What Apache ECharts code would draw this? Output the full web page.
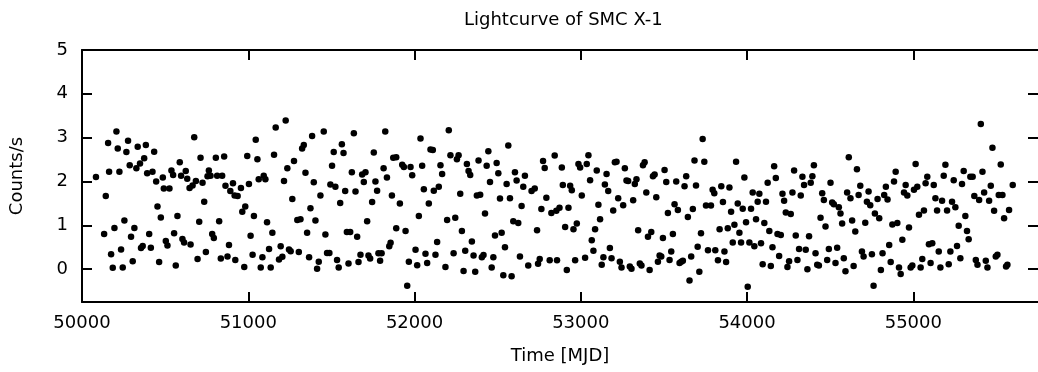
<!DOCTYPE html>
<html><head><meta charset="utf-8">
<script src="https://cdn.jsdelivr.net/npm/echarts@6/dist/echarts.min.js"></script>
<style>html,body{margin:0;padding:0;background:#fff}#c{width:1038px;height:372px}</style>
</head><body><div id="c"></div>
<script>
const chartTitle = 'Lightcurve of SMC X-1';
const xName = 'Time [MJD]';
const yName = 'Counts/s';
const xTicks = [50000, 51000, 52000, 53000, 54000, 55000];
const yTicks = [0, 1, 2, 3, 4, 5];

const mjd = [
50084,50143,50157,50163,50207,50215,50225,50267,50277,50287,50327,50335,50349,50374,50384,50392,50424,50434,50446,50486,50492,50526,50538,50548,50588,50596,50624,50633,50647,50665,50675,50685,50713,50725,50735,50755,50763,50773,50805,50813,50843,50855,50863,50892,50908,50918,50936,
50133,50175,50185,50195,50235,50245,50255,50295,50305,50315,50355,50365,50404,50414,50454,50464,50474,50504,50514,50554,50564,50574,50604,50614,50653,50695,50705,50745,50783,50793,50825,50835,50875,50884,50922,
50956,50964,50982,50994,51004,51014,51034,51045,51055,51063,51093,51103,51113,51145,51155,51165,51215,51225,51235,51265,51275,51295,51314,51324,51334,51344,51354,51374,51384,51394,51404,51434,51454,51464,51494,51504,51514,51524,51553,51563,51573,51583,51593,51613,51623,51635,51645,51655,51685,51695,51705,51715,51745,51755,51765,51775,51814,51824,51834,51864,51872,51890,51890,51848,51856,
50976,51026,51075,51085,51125,51135,51185,51195,51205,51245,51255,51304,51366,51414,51424,51474,51488,51534,51544,51603,51663,51675,51723,51733,51783,51793,51802,
51912,51926,51936,51946,51956,51966,51976,51986,52006,52016,52026,52036,52046,52056,52066,52076,52086,52096,52110,52116,52126,52136,52146,52156,52166,52186,52196,52206,52216,52235,52245,52255,52265,52275,52285,52295,52305,52315,52325,52335,52345,52355,52365,52375,52385,52395,52405,52415,52424,52434,52444,52454,52464,52474,52484,52494,52504,52514,52524,52534,52544,52554,52564,52574,52584,52594,52604,52614,52624,52634,52644,52654,52664,52684,52704,52723,52737,52743,52753,52763,52773,52783,52793,52813,52823,52843,52853,52857,
52872,52886,52892,52906,52916,52926,52936,52946,52956,52966,52976,52986,52996,53006,53026,53036,53046,53056,53066,53076,53086,53096,53106,53116,53126,53136,53145,53155,53165,53175,53185,53195,53205,53215,53225,53235,53245,53255,53265,53275,53285,53295,53305,53315,53325,53335,53345,53355,53365,53374,53384,53394,53404,53414,53424,53434,53444,53454,53464,53474,53484,53494,53504,53514,53524,53534,53544,53554,53564,53574,53584,53594,53604,53614,53624,53634,53644,53654,53664,53674,53684,53693,53703,53713,53723,53733,53743,53753,53765,53783,53793,53803,53809,
53825,53835,53845,53855,53864,53874,53884,53894,53904,53914,53924,53934,53944,53954,53964,53974,53984,53994,54004,54014,54024,54034,54044,54054,54064,54074,54084,54094,54104,54114,54124,54134,54143,54153,54163,54173,54183,54193,54203,54213,54223,54233,54243,54253,54263,54273,54283,54293,54303,54313,54323,54333,54343,54353,54363,54373,54383,54393,54402,54412,54422,54432,54442,54452,54462,54472,54482,54492,54502,54512,54522,54532,54542,54552,54562,54572,54582,54592,54602,54612,54622,54632,54641,54651,54661,54671,54681,54691,54701,54711,54721,54731,54741,54751,54761,54769,
54785,54795,54805,54815,54825,54835,54845,54855,54864,54874,54884,54894,54904,54914,54924,54934,54944,54954,54964,54974,54984,54994,55004,55014,55024,55034,55044,55054,55064,55074,55084,55094,55104,55114,55123,55133,55143,55153,55163,55173,55183,55193,55203,55213,55223,55233,55243,55253,55263,55273,55283,55293,55303,55313,55323,55333,55343,55357,55367,55376,55386,55396,55406,55416,55426,55436,55446,55456,55466,55476,55486,55496,55506,55514,55526,55536,55546,55558,55566,55576,55598
];

const rate = [
2.10,1.67,2.88,2.22,3.14,2.75,2.22,2.67,2.93,2.37,2.30,2.79,2.41,2.53,2.83,2.19,2.22,2.68,2.00,2.09,1.84,1.84,2.25,2.15,2.44,2.13,2.24,2.06,1.85,1.91,3.01,2.01,2.54,1.97,1.54,2.12,2.25,2.13,2.54,2.13,2.13,2.57,1.90,1.78,1.96,1.68,1.67,
0.80,0.34,0.03,0.94,0.45,0.04,1.11,0.74,0.18,0.94,0.48,0.53,0.80,0.49,1.43,0.16,1.18,0.64,0.54,0.82,0.08,1.21,0.69,0.61,0.56,0.23,1.08,0.39,0.80,0.71,1.09,0.24,0.29,0.55,0.21,
1.85,1.31,1.43,2.58,1.94,0.76,1.21,2.95,2.51,2.05,2.13,2.05,1.07,0.83,2.61,3.23,2.01,3.39,2.30,1.60,2.47,1.12,1.14,2.75,2.83,2.20,0.83,1.39,3.04,1.98,1.11,1.68,3.14,0.79,1.93,2.36,2.67,1.88,1.51,2.85,2.65,1.78,0.85,0.85,2.21,3.10,1.77,0.74,2.16,1.99,2.21,1.09,1.53,2.66,2.00,1.79,2.30,3.14,2.09,1.68,2.54,2.55,0.93,0.52,0.60,
0.05,0.33,0.04,0.27,0.46,0.04,0.22,0.52,0.28,0.45,0.41,0.39,0.27,0.01,0.17,0.37,0.37,0.21,0.04,0.13,0.16,0.33,0.31,0.24,0.36,0.19,0.36,
1.50,2.38,2.33,0.87,-0.38,0.17,2.33,2.14,0.44,0.09,1.21,2.98,2.36,1.82,0.35,0.14,1.50,2.73,2.72,1.79,0.33,0.62,1.88,2.37,2.17,0.05,1.12,3.17,2.60,0.36,1.17,2.51,2.60,1.72,0.87,-0.04,0.42,2.40,2.24,2.15,0.63,0.31,-0.06,1.68,2.48,1.70,0.27,0.32,1.27,2.36,2.69,1.99,0.04,0.27,0.77,2.42,2.19,1.61,0.83,-0.14,0.50,1.94,2.82,1.62,-0.16,1.09,2.21,2.02,1.05,0.29,1.44,1.88,2.13,0.08,1.78,1.84,0.89,0.12,0.23,1.37,2.47,2.31,1.63,0.20,1.28,2.59,1.33,0.20,
1.40,2.32,1.92,0.96,-0.02,1.40,1.90,1.80,0.91,0.20,1.04,2.40,2.32,1.68,0.26,2.40,2.60,2.03,0.66,0.42,0.91,2.25,1.47,1.14,0.10,0.27,1.93,2.17,1.78,0.48,0.25,1.34,2.44,2.45,1.62,0.17,0.04,1.46,2.30,2.02,2.01,0.06,0.01,1.57,1.94,2.05,0.89,0.13,0.08,2.37,2.44,1.75,0.74,-0.02,0.85,2.12,2.16,1.64,0.17,0.31,0.29,0.71,2.26,1.99,1.28,0.21,0.40,0.80,1.48,2.00,1.35,0.14,0.17,0.19,1.89,2.12,1.19,-0.26,0.29,1.37,2.48,1.91,0.51,-0.06,0.82,2.97,2.45,1.45,0.43,1.45,1.81,1.73,0.43,
0.20,0.91,1.89,1.53,0.40,0.16,0.93,1.86,1.31,0.61,1.01,2.45,1.50,0.83,0.61,1.38,2.09,1.07,-0.40,0.61,1.38,1.75,0.52,1.14,1.54,1.72,0.59,0.11,1.05,1.54,1.97,0.87,0.07,0.50,2.35,2.08,0.80,0.30,0.78,1.72,1.56,1.29,0.05,0.18,1.26,1.75,2.25,0.77,0.21,0.46,1.68,2.11,1.92,0.44,0.00,0.75,1.97,2.12,2.37,0.36,0.10,0.08,1.17,1.73,1.58,0.97,0.21,0.46,1.97,1.52,1.48,0.14,0.49,1.41,1.27,1.04,0.25,-0.05,1.75,2.55,1.62,1.11,0.07,0.86,2.28,1.69,1.90,0.40,0.29,1.06,1.54,1.77,1.46,0.34,-0.38,1.27,
1.60,1.16,-0.02,0.36,1.69,1.88,1.59,0.55,0.16,1.02,2.00,2.22,1.05,0.04,-0.11,0.67,1.75,1.92,1.68,0.95,0.04,0.08,1.81,2.40,1.88,1.24,0.04,0.23,1.34,1.96,2.11,0.57,0.14,0.59,1.92,1.62,1.34,0.40,0.04,1.56,2.13,2.38,1.34,0.11,0.40,1.54,2.03,1.41,0.53,0.99,0.25,1.94,2.24,1.21,0.87,0.68,2.11,2.11,1.67,0.21,0.10,1.58,3.31,2.22,1.75,0.19,0.04,1.56,1.90,2.77,1.33,0.29,0.33,1.69,2.39,1.69,1.16,0.06,0.10,1.35,1.92
];

const points = mjd.map((t, i) => [t, rate[i]]);
const FONT = 'DejaVu Sans';
const axisColor = '#000';

const chart = echarts.init(document.getElementById('c'), null, {renderer: 'canvas'});
const baseX = {
  type: 'value', min: 50000, max: 55750,
  splitLine: {show: false},
  axisLine: {show: true, onZero: false, lineStyle: {color: axisColor, width: 2}},
  axisTick: {show: true, inside: true, length: 10, customValues: xTicks, lineStyle: {color: axisColor, width: 2}}
};
const baseY = {
  type: 'value', min: -0.75, max: 5,
  splitLine: {show: false},
  axisLine: {show: true, onZero: false, lineStyle: {color: axisColor, width: 2}},
  axisTick: {show: true, inside: true, length: 10, customValues: yTicks, lineStyle: {color: axisColor, width: 2}}
};
chart.setOption({
  animation: false,
  backgroundColor: '#fff',
  title: {
    text: chartTitle, left: 459, top: 6,
    textStyle: {fontFamily: FONT, fontSize: 18, fontWeight: 'normal', color: '#000'}
  },
  grid: {left: 81, right: -5, top: 50, bottom: 70, containLabel: false},
  xAxis: [
    Object.assign({}, baseX, {
      position: 'bottom',
      name: xName, nameLocation: 'middle', nameGap: 45,
      nameTextStyle: {fontFamily: FONT, fontSize: 18, color: '#000'},
      axisLabel: {customValues: xTicks, margin: 12, fontFamily: FONT, fontSize: 18, color: '#000', formatter: v => String(v)}
    }),
    Object.assign({}, baseX, {position: 'top', axisLabel: {show: false}})
  ],
  yAxis: [
    Object.assign({}, baseY, {
      position: 'left',
      name: yName, nameLocation: 'middle', nameGap: 56, nameRotate: 90,
      nameTextStyle: {fontFamily: FONT, fontSize: 18, color: '#000'},
      axisLabel: {customValues: yTicks, margin: 14, fontFamily: FONT, fontSize: 18, color: '#000', formatter: v => String(v)}
    }),
    Object.assign({}, baseY, {position: 'right', axisLine: {show: false, onZero: false}, axisLabel: {show: false}})
  ],
  series: [{
    type: 'scatter', data: points, symbol: 'circle', symbolSize: 6.5,
    xAxisIndex: 0, yAxisIndex: 0,
    itemStyle: {color: '#000', opacity: 1}
  }]
});
</script>
</body></html>
